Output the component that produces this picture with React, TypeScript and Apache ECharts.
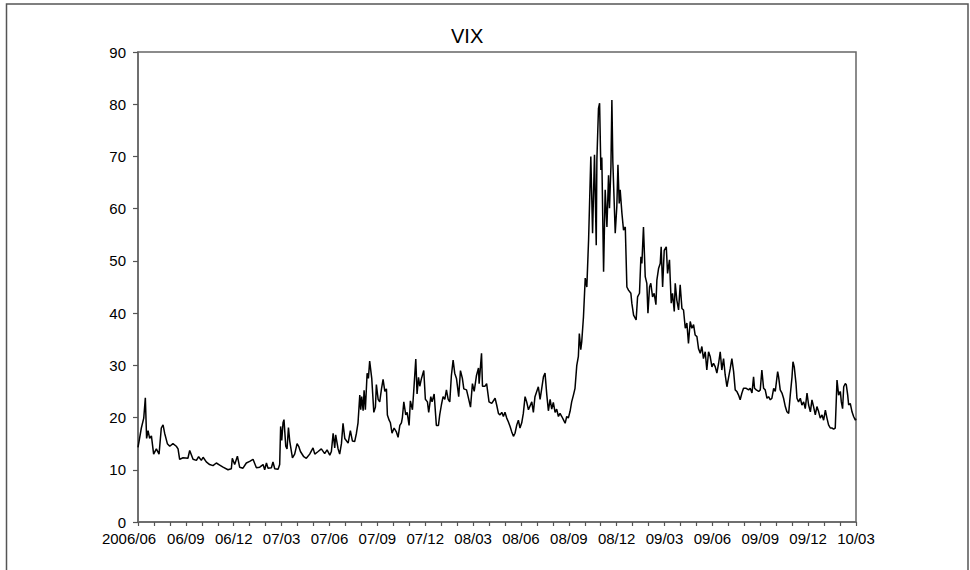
import React, { useEffect, useRef } from "react";
import * as echarts from "echarts";

// x position in months since 2006/06 (0 = 2006/06, 45 = 2010/03)
const monthPos: number[] = [
  0, 0.21, 0.36, 0.46, 0.54, 0.63, 0.73, 0.84, 0.98, 1.15, 1.32, 1.46, 1.57, 1.67, 1.84, 1.99,
  2.19, 2.4, 2.51, 2.61, 2.82, 3.13, 3.24, 3.45, 3.66, 3.8, 3.97, 4.08, 4.28, 4.49, 4.7, 4.91,
  5.12, 5.33, 5.64, 5.85, 5.91, 6.06, 6.23, 6.37, 6.58, 6.79, 7.0, 7.21, 7.42, 7.63, 7.84, 7.94,
  8.05, 8.15, 8.36, 8.46, 8.57, 8.78, 8.88, 8.94, 9.01, 9.09, 9.15, 9.26, 9.34, 9.43, 9.51, 9.68,
  9.82, 9.97, 10.07, 10.18, 10.39, 10.55, 10.76, 10.97, 11.08, 11.29, 11.49, 11.7, 11.85, 12.02,
  12.12, 12.23, 12.33, 12.39, 12.54, 12.64, 12.75, 12.85, 12.96, 13.17, 13.31, 13.44, 13.58,
  13.69, 13.79, 13.9, 13.96, 14.02, 14.11, 14.17, 14.25, 14.36, 14.44, 14.52, 14.65, 14.78,
  14.88, 14.94, 15.05, 15.15, 15.26, 15.36, 15.47, 15.57, 15.63, 15.74, 15.82, 15.92, 16.05,
  16.2, 16.3, 16.41, 16.51, 16.57, 16.66, 16.78, 16.87, 16.99, 17.07, 17.2, 17.28, 17.41, 17.49,
  17.58, 17.66, 17.76, 17.91, 18.01, 18.14, 18.22, 18.35, 18.43, 18.56, 18.7, 18.83, 18.91,
  19.02, 19.12, 19.23, 19.33, 19.44, 19.54, 19.64, 19.75, 19.85, 19.96, 20.1, 20.21, 20.33,
  20.42, 20.59, 20.69, 20.84, 20.96, 21.07, 21.21, 21.34, 21.38, 21.53, 21.59,
  21.75, 21.85, 22.0, 22.17, 22.38, 22.48, 22.59, 22.69, 22.8, 22.9, 23.0, 23.11, 23.21, 23.32,
  23.42, 23.53, 23.63, 23.74, 23.84, 23.94, 24.05, 24.15, 24.26, 24.36, 24.47, 24.68, 24.78,
  24.88, 25.09, 25.2, 25.3, 25.41, 25.51, 25.62, 25.72, 25.83, 25.93, 26.03, 26.14, 26.24,
  26.35, 26.45, 26.56, 26.66, 26.77, 26.87, 26.97, 27.08, 27.18, 27.29, 27.39, 27.5, 27.6,
  27.66, 27.75, 27.81,
  27.92, 28.03, 28.13, 28.24, 28.38, 28.49, 28.61, 28.72, 28.76, 28.86, 28.93, 29.01, 29.07,
  29.18, 29.28, 29.39, 29.49, 29.55, 29.64, 29.7, 29.76, 29.91, 30.01, 30.08, 30.16, 30.22,
  30.33, 30.43, 30.54, 30.64, 30.74, 30.89, 30.95, 31.06, 31.22, 31.31, 31.43, 31.52, 31.58,
  31.68, 31.79, 31.89, 31.96, 32.06, 32.14, 32.25, 32.35, 32.46, 32.52, 32.63, 32.73, 32.79,
  32.88, 32.98, 33.11, 33.19, 33.31,
  33.35, 33.42, 33.5, 33.61, 33.67, 33.77, 33.88, 33.98, 34.09, 34.19, 34.3, 34.4, 34.5, 34.61,
  34.71, 34.82, 34.92, 35.03, 35.13, 35.24, 35.34, 35.44, 35.55, 35.65, 35.76, 35.86, 35.97,
  36.07, 36.18, 36.28, 36.39, 36.49, 36.59, 36.7, 36.8, 36.91, 37.01, 37.12, 37.22, 37.33,
  37.43, 37.53, 37.64, 37.74, 37.85, 37.95, 38.12, 38.27,
  38.37, 38.48, 38.58, 38.64, 38.75, 38.9, 39.0, 39.1, 39.21, 39.31, 39.42, 39.52, 39.63, 39.73,
  39.84, 39.94, 40.09, 40.15, 40.25, 40.36, 40.46, 40.57, 40.67, 40.78, 40.88, 40.99, 41.05,
  41.13, 41.24, 41.3, 41.4, 41.51, 41.61, 41.72, 41.82, 41.93, 42.03, 42.14, 42.24, 42.34,
  42.45, 42.55, 42.66, 42.76, 42.87, 42.97, 43.08, 43.18, 43.28, 43.39, 43.49, 43.6, 43.7,
  43.81, 43.91, 44.02, 44.08, 44.16, 44.23, 44.33, 44.39, 44.48, 44.54, 44.64, 44.75, 44.85,
  44.96, 45.0,
];

const vix: number[] = [
  14.3, 18, 19.9, 23.8, 16, 17.5, 16, 16.5, 13, 14, 13, 18, 18.6, 17, 15, 14.5,
  15, 14.5, 14, 12, 12.3, 12.2, 13.7, 12, 11.8, 12.5, 11.8, 12.4, 11.5, 11, 10.8, 11.3,
  10.9, 10.5, 10, 10.2, 12.2, 11, 12.6, 10.5, 10.3, 11.3, 11.6, 12, 10.4, 10.5, 11, 10,
  11.3, 10.3, 10.4, 11.5, 10.2, 10.1, 11, 18.3, 15.6, 19, 19.6, 14.5, 14, 18.1, 15.5, 12.3,
  13, 15, 14.5, 13.5, 12.5, 12.2, 13, 14.2, 13, 13.5, 14, 13.1, 13.8, 12.8,
  13.5, 17, 14.2, 16.7, 14, 13, 15, 18.9, 16, 15.1, 17.5, 15.5, 15.4,
  17, 19, 24.3, 21.5, 24, 21.3, 25.2, 21.5, 28.5, 27.5, 30.8, 27.5, 21,
  22, 26.3, 23.5, 23, 25.5, 27.3, 25, 25.5, 20.5, 19.5, 19, 17, 18,
  17.2, 16.2, 18.5, 19, 20, 23, 20.5, 21, 18.5, 23.2, 21.5, 25, 31.2, 24.5,
  27.7, 26, 27.4, 29, 23.5, 23, 21, 24, 23, 24.5, 18.5, 18.5, 20.5,
  22.5, 24, 23.5, 25.3, 23.5, 23, 28, 31, 28.5, 27.5, 24, 29, 27.5,
  25.5, 25.3, 24, 22, 26.5, 25, 28, 29.5, 26.5, 32.3, 26,
  26, 26.5, 23, 22.7, 23.7, 22.4, 20.8, 20.5, 21, 20.2, 21, 19.9, 19.2, 18.3,
  17.3, 16.4, 17, 18.6, 19.5, 18, 19, 20.8, 24, 23, 21.5, 23, 21,
  24, 25.9, 23.5, 25.5, 27.8, 28.5, 24.4, 21.3, 23.5, 21.6, 22.9, 21, 21.6,
  20.2, 20.8, 20.2, 19.6, 18.9, 20.2, 19.9, 21.2, 23, 24.3, 25.6, 30, 31.7,
  36.1, 33, 34.5,
  39.3, 46.7, 45, 54, 70, 55.3, 70.3, 53, 69.3, 79.2, 80.2, 67.4, 69.8,
  47.9, 63.6, 56.5, 66.4, 60.1, 68, 80.8, 69, 55.3, 60.4, 68.4, 61, 63.6,
  59.1, 55.9, 56.5, 45, 44.4, 43.8, 41.9, 39.6, 38.7, 43.1, 43.8, 50.8, 49.5,
  56.5, 47, 45.7, 40, 45, 45.7, 43.1, 43.8, 41.6, 46.3, 48.6, 49.5, 52.7,
  45, 52, 52.7, 47.6, 50.2,
  47, 41.9, 43.8, 40.3, 45.7, 42.5, 40.6, 45.4, 40.9, 40.6, 37.1, 38.1, 34.2, 38.4,
  37.1, 37.8, 35.8, 35.5, 33.2, 32.3, 33.6, 31.3, 32.6, 29.1, 32.6, 31.7, 29.7,
  30.4, 29.7, 28.5, 30.4, 32.6, 29.1, 31.3, 28.2, 25.9, 27.6, 29.4, 31.3, 28.8,
  25.3, 25, 24.3, 23.4, 24.7, 25.6, 25.6, 25.3,
  25.6, 24.7, 27.8, 25.6, 25.3, 25, 25.3, 29.1, 25.6, 25.3, 23.7, 24, 23.4, 23.7,
  25.6, 25, 28.8, 27.8, 25.3, 24.7, 23.7, 22.1, 21.1, 20.8, 24.3, 27.8, 30.7,
  29.7, 26.5, 23.7, 23, 23.7, 22.4, 23, 21.7, 24.7, 22.4, 21.1, 23.4, 22.1,
  20.5, 22.1, 21.1, 19.9, 20.5, 19.5, 21.4, 19.9, 18.6, 18, 18, 17.8, 18,
  27.2, 24.3, 25, 23, 21.7, 25.9, 26.5, 26.3, 24.3, 22.4, 22.7, 21.1, 20.2,
  19.5, 19.8,
];

const xTickLabels: string[] = [
  "2006/06", "06/09", "06/12", "07/03", "07/06", "07/09", "07/12", "08/03",
  "08/06", "08/09", "08/12", "09/03", "09/06", "09/09", "09/12", "10/03",
];

const yMin = 0;
const yMax = 90;
const yStep = 10;
const chartTitle = "VIX";

const FONT = "'Liberation Sans', Arial, Helvetica, sans-serif";

export default function App() {
  const ref = useRef<HTMLDivElement>(null);

  useEffect(() => {
    if (!ref.current) return;
    const chart = echarts.init(ref.current, undefined, { renderer: "svg" });
    const data = monthPos.map((m, i) => [m, vix[i]]);
    chart.setOption({
      animation: false,
      backgroundColor: "#ffffff",
      textStyle: { fontFamily: FONT },
      title: {
        text: chartTitle,
        left: 451,
        top: 26,
        padding: 0,
        textStyle: { fontSize: 20, fontWeight: "normal", color: "#000", fontFamily: FONT },
      },
      graphic: [
        {
          type: "rect",
          shape: { x: 6.5, y: 4, width: 961.5, height: 640 },
          style: { fill: "none", stroke: "#555", lineWidth: 1.5 },
          silent: true,
          z: 0,
        },
      ],
      grid: {
        left: 138,
        right: 114,
        top: 52,
        bottom: 48,
        show: true,
        borderColor: "#666",
        borderWidth: 1.5,
        backgroundColor: "transparent",
        containLabel: false,
        outerBoundsMode: "none",
      },
      xAxis: {
        type: "value",
        min: 0,
        max: (xTickLabels.length - 1) * 3,
        interval: 1,
        axisLine: { show: true, lineStyle: { color: "#666", width: 1.5 } },
        axisTick: { show: true, length: 4, lineStyle: { color: "#555", width: 1.2 } },
        splitLine: { show: false },
        axisLabel: {
          margin: 9,
          fontSize: 15,
          color: "#000",
          fontFamily: FONT,
          showMinLabel: true,
          showMaxLabel: true,
          formatter: (v: number) => {
            const r = Math.round(v);
            if (r % 3 !== 0) return "";
            const s = xTickLabels[r / 3] ?? "";
            return r === 0 ? "{first|" + s + "}" : s;
          },
          rich: {
            first: {
              fontSize: 15,
              color: "#000",
              fontFamily: FONT,
              padding: [0, 18, 0, 0],
            },
          },
        },
      },
      yAxis: {
        type: "value",
        min: yMin,
        max: yMax,
        interval: yStep,
        axisLine: { show: true, lineStyle: { color: "#666", width: 1.5 } },
        axisTick: { show: true, length: 5, lineStyle: { color: "#555", width: 1.2 } },
        splitLine: { show: false },
        axisLabel: { margin: 12, fontSize: 15, color: "#000", fontFamily: FONT },
      },
      series: [
        {
          type: "line",
          data,
          showSymbol: false,
          symbol: "none",
          lineStyle: { color: "#000", width: 1.5 },
          itemStyle: { color: "#000" },
          emphasis: { disabled: true },
        },
      ],
    });
    return () => chart.dispose();
  }, []);

  return (
    <div
      ref={ref}
      style={{ position: "fixed", left: 0, top: 0, width: 970, height: 570 }}
    />
  );
}
